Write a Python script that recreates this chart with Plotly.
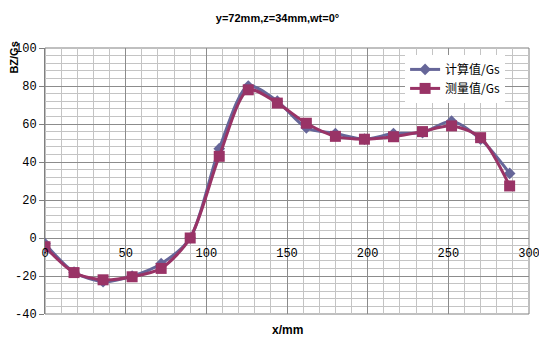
import plotly.graph_objects as go

x_mm = [0, 18, 36, 54, 72, 90, 108, 126, 144, 162, 180, 198, 216, 234, 252, 270, 288]
calc_gs = [-3, -18, -23, -20, -13.5, 0, 47, 80, 72, 58, 55, 52, 55, 55.5, 61.5, 52, 34]
meas_gs = [-4.6, -18.2, -22, -20.4, -16, 0, 43, 78, 71, 60.4, 53.5, 52, 53.3, 56, 59, 52.8, 27.4]

x_ticks = [0, 50, 100, 150, 200, 250, 300]
y_ticks = [-40, -20, 0, 20, 40, 60, 80, 100]

fig = go.Figure()
fig.add_trace(go.Scatter(
    x=x_mm, y=calc_gs, name="计算值/Gs", mode="lines+markers",
    line=dict(color="#666699", width=3, shape="spline", smoothing=0.8),
    marker=dict(symbol="diamond", size=9, color="#666699"),
))
fig.add_trace(go.Scatter(
    x=x_mm, y=meas_gs, name="测量值/Gs", mode="lines+markers",
    line=dict(color="#993366", width=3, shape="spline", smoothing=0.8),
    marker=dict(symbol="square", size=11, color="#993366"),
))

tick_font = dict(family="Liberation Mono, DejaVu Sans Mono, monospace", size=12, color="#000000")

fig.update_layout(
    width=539, height=331,
    margin=dict(l=37, r=18, t=40, b=25),
    paper_bgcolor="white", plot_bgcolor="white",
    title=dict(text="<b>y=72mm,z=34mm,wt=0°</b>", x=0.5, xanchor="center", y=0.97, yanchor="middle",
               font=dict(family="Liberation Sans, Arial, sans-serif", size=11, color="#000000")),
    showlegend=True,
    legend=dict(x=0.744, y=0.974, xanchor="left", yanchor="top", bgcolor="white",
                font=dict(family="Noto Sans CJK SC, sans-serif", size=12, color="#000000"),
                itemwidth=30, tracegroupgap=2),
    xaxis=dict(
        range=[0, 300], tickvals=x_ticks, ticktext=[str(v) for v in x_ticks],
        anchor="free", position=40 / 140, side="bottom", automargin=False,
        showgrid=True, gridcolor="#8c8c8c", gridwidth=1,
        minor=dict(dtick=10, showgrid=True, gridcolor="#c4c4c4", gridwidth=1),
        showline=False, zeroline=False, ticks="", tickfont=tick_font, ticklabelstandoff=6,
        fixedrange=True,
    ),
    yaxis=dict(
        range=[-40, 100], tickvals=y_ticks, ticktext=[str(v) for v in y_ticks],
        automargin=False,
        showgrid=True, gridcolor="#8c8c8c", gridwidth=1,
        minor=dict(dtick=4, tick0=0, showgrid=True, gridcolor="#c4c4c4", gridwidth=1),
        showline=True, linecolor="#808080", linewidth=1,
        zeroline=False, ticks="outside", ticklen=5, tickcolor="#808080",
        tickfont=tick_font, fixedrange=True,
    ),
    shapes=[dict(type="rect", xref="paper", yref="paper", x0=0, x1=1, y0=0, y1=1,
                 line=dict(color="#808080", width=1), layer="below")],
    annotations=[
        dict(text="<b>x/mm</b>", xref="paper", yref="paper", x=0.5, y=-0.06, xanchor="center",
             yanchor="middle", showarrow=False,
             font=dict(family="Liberation Sans, Arial, sans-serif", size=12, color="#000000")),
        dict(text="<b>BZ/Gs</b>", xref="paper", yref="paper", x=-0.064, y=0.964, xanchor="center",
             yanchor="middle", textangle=-90, showarrow=False,
             font=dict(family="Liberation Sans, Arial, sans-serif", size=11, color="#000000")),
    ],
)

fig.write_html("out.html")
